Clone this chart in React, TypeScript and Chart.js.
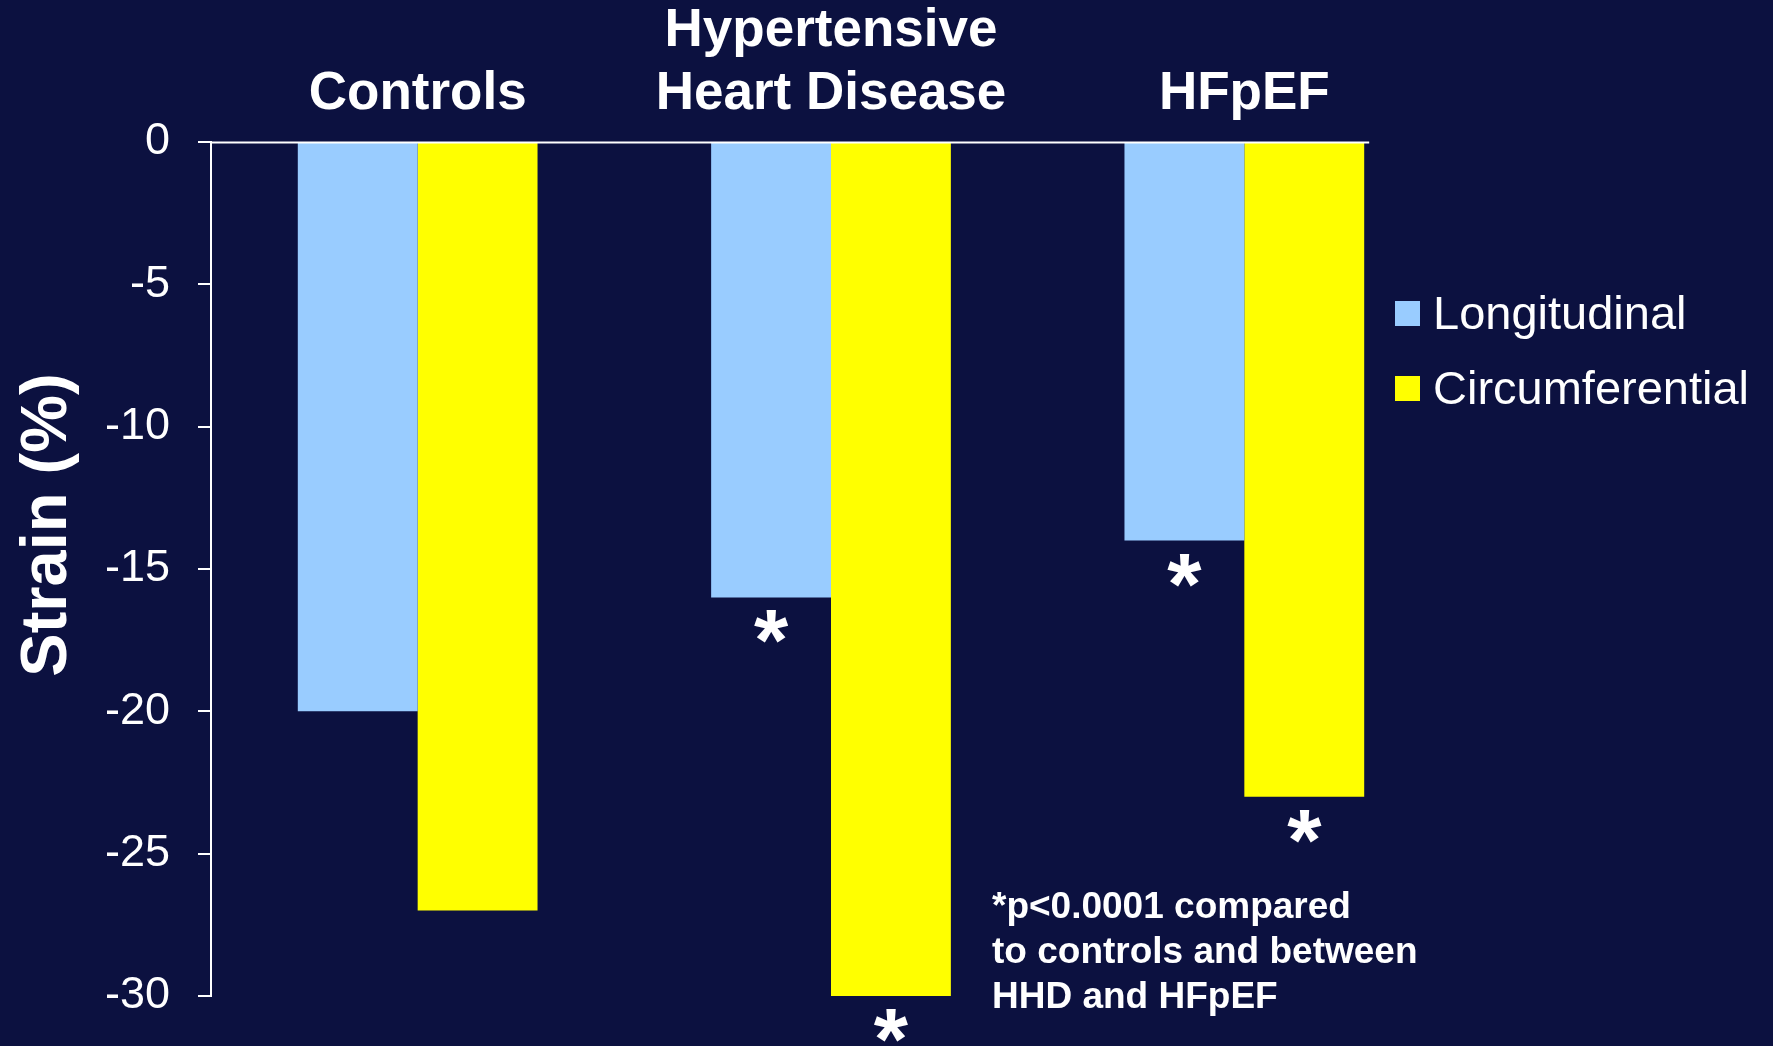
import { useEffect, useRef } from "react";
import { Chart, registerables } from "chart.js";

Chart.register(...registerables);

// Study groups along the top axis
const groups: (string | string[])[] = ["Controls", ["Hypertensive", "Heart Disease"], "HFpEF"];

// Mean strain (%) per group
const longitudinal = [-20, -16, -14];
const circumferential = [-27, -30, -23];

// Bars marked with a significance asterisk
const longitudinalSig = [false, true, true];
const circumferentialSig = [false, true, true];

// Y axis range and tick step
const yMin = -30;
const yMax = 0;
const yStep = 5;

const yTitle = "Strain (%)";
const footnote = ["*p<0.0001 compared", "to controls and between", "HHD and HFpEF"];

const BG = "#0c1140";
const BLUE = "#99ccff";
const YELLOW = "#ffff00";
const WHITE = "#ffffff";
const FONT = "'Liberation Sans', Arial, Helvetica, sans-serif";

const decorations = {
  id: "strainDecorations",
  afterDatasetsDraw(chart: any) {
    const ctx: CanvasRenderingContext2D = chart.ctx;
    const area = chart.chartArea;
    const yScale = chart.scales.y;
    ctx.save();

    // zero baseline, running from the axis to just past the last bar
    const lastMeta = chart.getDatasetMeta(chart.data.datasets.length - 1);
    const lastBar = lastMeta.data[lastMeta.data.length - 1];
    const y0 = Math.round(yScale.getPixelForValue(0)) + 0.5;
    ctx.strokeStyle = WHITE;
    ctx.lineWidth = 2;
    ctx.beginPath();
    ctx.moveTo(area.left, y0);
    ctx.lineTo(lastBar.x + lastBar.width / 2 + 5, y0);
    ctx.stroke();

    // significance asterisks under the flagged bars
    ctx.fillStyle = WHITE;
    ctx.font = `bold 88px ${FONT}`;
    ctx.textAlign = "center";
    ctx.textBaseline = "alphabetic";
    const ascent = ctx.measureText("*").actualBoundingBoxAscent;
    chart.data.datasets.forEach((ds: any, di: number) => {
      const meta = chart.getDatasetMeta(di);
      meta.data.forEach((bar: any, i: number) => {
        if (ds.sig && ds.sig[i]) {
          ctx.fillText("*", bar.x, bar.y + 13 + ascent);
        }
      });
    });

    // legend on the right
    ctx.textAlign = "left";
    ctx.font = `47px ${FONT}`;
    chart.data.datasets.forEach((ds: any, di: number) => {
      const top = 301 + di * 75;
      ctx.fillStyle = ds.backgroundColor;
      ctx.fillRect(1395, top, 25, 25);
      ctx.fillStyle = WHITE;
      ctx.fillText(ds.label, 1433, top + 28);
    });

    // y axis title
    ctx.save();
    ctx.translate(66, 525);
    ctx.rotate(-Math.PI / 2);
    ctx.font = `bold 65px ${FONT}`;
    ctx.textAlign = "center";
    ctx.fillStyle = WHITE;
    ctx.fillText(yTitle, 0, 0);
    ctx.restore();

    // footnote
    ctx.font = `bold 37px ${FONT}`;
    ctx.fillStyle = WHITE;
    ctx.textAlign = "left";
    footnote.forEach((line, i) => {
      ctx.fillText(line, 992, 918 + i * 45);
    });

    ctx.restore();
  },
};

export default function App() {
  const canvasRef = useRef<HTMLCanvasElement | null>(null);

  useEffect(() => {
    const canvas = canvasRef.current;
    if (!canvas) return;
    const chart = new Chart(canvas, {
      type: "bar",
      data: {
        labels: groups as any,
        datasets: [
          {
            label: "Longitudinal",
            data: longitudinal,
            backgroundColor: BLUE,
            borderWidth: 0,
            sig: longitudinalSig,
          } as any,
          {
            label: "Circumferential",
            data: circumferential,
            backgroundColor: YELLOW,
            borderWidth: 0,
            sig: circumferentialSig,
          } as any,
        ],
      },
      options: {
        responsive: false,
        animation: false,
        devicePixelRatio: 1,
        layout: { padding: { left: 0, top: 0, right: 322, bottom: 50 } },
        datasets: {
          bar: { categoryPercentage: 0.58, barPercentage: 1.0 },
        },
        plugins: {
          legend: { display: false },
          tooltip: { enabled: false },
          title: { display: false },
        },
        scales: {
          x: {
            position: "top",
            border: { display: false },
            grid: { display: false, drawTicks: false },
            ticks: {
              color: WHITE,
              padding: 16,
              maxRotation: 0,
              autoSkip: false,
              font: { family: FONT, size: 53, weight: "bold", lineHeight: 1.19 },
            },
            afterFit(scale: any) {
              scale.height = 142;
            },
          },
          y: {
            min: yMin,
            max: yMax,
            border: { display: true, color: WHITE, width: 2 },
            grid: {
              drawOnChartArea: false,
              drawTicks: true,
              tickLength: 13,
              color: WHITE,
              lineWidth: 2,
            },
            ticks: {
              stepSize: yStep,
              color: WHITE,
              padding: 28,
              font: { family: FONT, size: 45, lineHeight: 0.9 },
            },
            afterFit(scale: any) {
              scale.width = 211;
            },
          },
        },
      },
      plugins: [decorations],
    });
    return () => chart.destroy();
  }, []);

  return (
    <div
      style={{
        position: "fixed",
        left: 0,
        top: 0,
        width: 1773,
        height: 1046,
        background: BG,
        overflow: "hidden",
      }}
    >
      <canvas ref={canvasRef} width={1773} height={1046} style={{ display: "block" }} />
    </div>
  );
}
